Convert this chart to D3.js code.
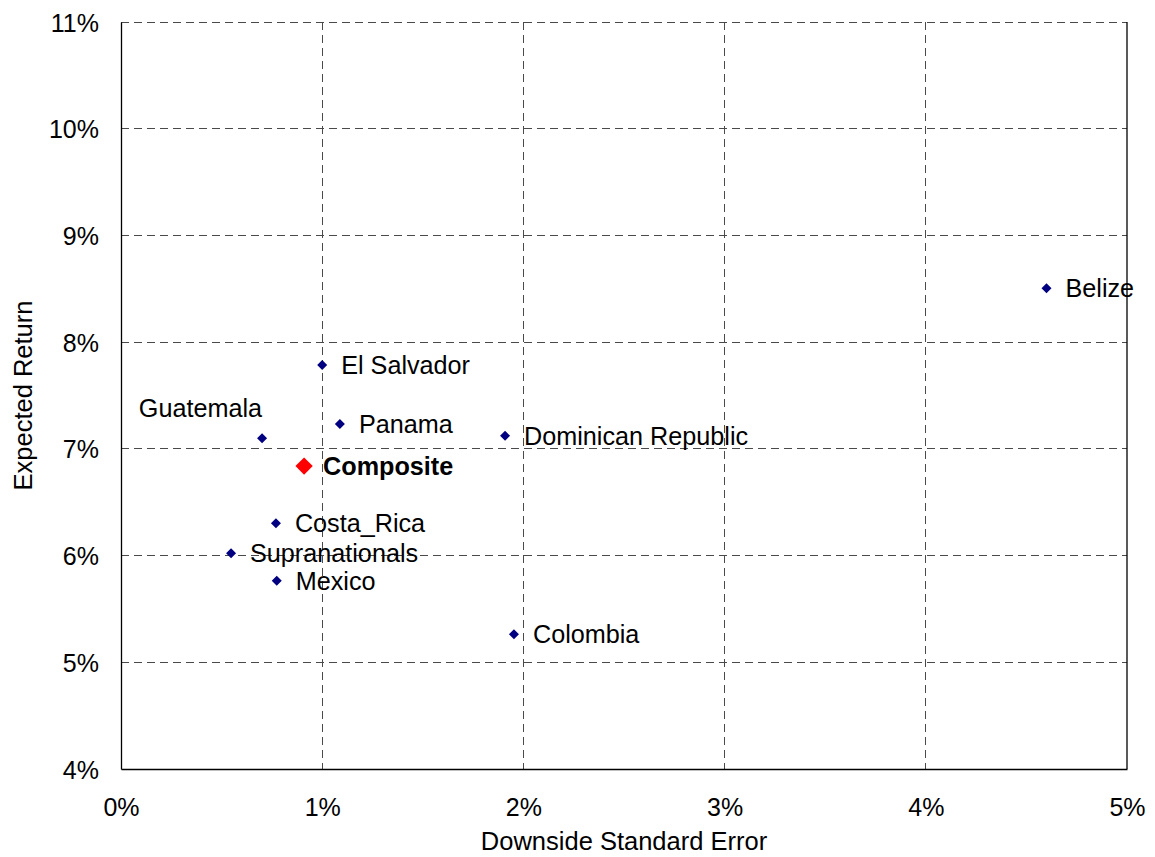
<!DOCTYPE html>
<html>
<head>
<meta charset="utf-8">
<script src="https://cdn.jsdelivr.net/npm/d3@7/dist/d3.min.js"></script>
<style>
  html, body { margin: 0; padding: 0; background: #fff; }
  svg { display: block; font-family: "Liberation Sans", Arial, sans-serif; }
</style>
</head>
<body>
<svg id="chart" width="1155" height="857"></svg>
<script>
// Country scores: downside standard error (%) vs expected return (%)
const countries = ["Belize", "El Salvador", "Panama", "Dominican Republic", "Guatemala",
                   "Composite", "Costa_Rica", "Supranationals", "Mexico", "Colombia"];
const downsideError = [4.60, 1.00, 1.088, 1.909, 0.701, 0.910, 0.770, 0.547, 0.774, 1.953];
const expectedReturn = [8.504, 7.786, 7.233, 7.123, 7.099, 6.839, 6.302, 6.021, 5.764, 5.262];
const labelSide = ["right", "right", "right", "right", "above-left",
                   "right", "right", "right", "right", "right"];

const xTicks = [0, 1, 2, 3, 4, 5];
const yTicks = [4, 5, 6, 7, 8, 9, 10, 11];

const margin = { left: 121, top: 22, right: 28, bottom: 88 };
const W = 1155, H = 857;
const svg = d3.select("#chart");

const x = d3.scaleLinear().domain([0, 5]).range([margin.left, W - margin.right]);
const y = d3.scaleLinear().domain([4, 11]).range([H - margin.bottom, margin.top]);

const x0 = x.range()[0], x1 = x.range()[1];
const yTop = y.range()[1], yBot = y.range()[0];

// Dashed gridlines
const grid = svg.append("g").attr("stroke", "#4a4a4a").attr("stroke-width", 1)
  .attr("stroke-dasharray", "8,5").attr("shape-rendering", "crispEdges");
grid.selectAll("line.h").data(yTicks.filter(v => v > 4)).join("line")
  .attr("class", "h")
  .attr("x1", x0).attr("x2", x1)
  .attr("y1", d => y(d)).attr("y2", d => y(d));
grid.selectAll("line.v").data(xTicks.filter(v => v > 0 && v < 5)).join("line")
  .attr("class", "v")
  .attr("y1", yTop).attr("y2", yBot)
  .attr("x1", d => x(d)).attr("x2", d => x(d));

// Axes drawn with D3 axis generators; tick marks hidden, domain lines kept
const fmt = d => d + "%";
const xAxis = svg.append("g").attr("transform", `translate(0,${yBot})`)
  .call(d3.axisBottom(x).tickValues(xTicks).tickFormat(fmt).tickSize(0).tickPadding(29));
const yAxis = svg.append("g").attr("transform", `translate(${x0},0)`)
  .call(d3.axisLeft(y).tickValues(yTicks).tickFormat(fmt).tickSize(0).tickPadding(22));
[xAxis, yAxis].forEach(a => {
  a.select(".domain").attr("stroke", "#000").attr("stroke-width", 1.3);
  a.selectAll("text").attr("font-size", 25).attr("fill", "#000")
    .attr("font-family", "'Liberation Sans', Arial, sans-serif");
});
yAxis.selectAll("text").attr("dy", "0.36em");
xAxis.selectAll("text").attr("dy", "0.71em");

// Right border of plot area
svg.append("line").attr("x1", x1).attr("x2", x1).attr("y1", yTop).attr("y2", yBot)
  .attr("stroke", "#000").attr("stroke-width", 1.3);

// Axis titles
svg.append("text").attr("x", 624).attr("y", 850)
  .attr("text-anchor", "middle").attr("font-size", 25.5).attr("fill", "#000")
  .text("Downside Standard Error");
svg.append("text")
  .attr("transform", `translate(32,${(yTop + yBot) / 2}) rotate(-90)`)
  .attr("text-anchor", "middle").attr("font-size", 25.5).attr("fill", "#000")
  .text("Expected Return");

// Points and labels
const pts = countries.map((name, i) => ({
  name, dx: downsideError[i], ret: expectedReturn[i], side: labelSide[i],
  composite: name === "Composite"
}));

const g = svg.append("g");
g.selectAll("path").data(pts).join("path")
  .attr("transform", d => `translate(${x(d.dx)},${y(d.ret)}) rotate(45)`)
  .attr("d", d => d3.symbol(d3.symbolSquare, d.composite ? 150 : 50)())
  .attr("fill", d => d.composite ? "#ff0000" : "#000080");

g.selectAll("text").data(pts).join("text")
  .attr("x", d => d.side === "right" ? x(d.dx) + 19 : x(d.dx))
  .attr("y", d => d.side === "right" ? y(d.ret) : y(d.ret) - 21)
  .attr("dy", d => d.side === "right" ? "0.35em" : 0)
  .attr("text-anchor", d => d.side === "right" ? "start" : "end")
  .attr("font-size", 25.2)
  .attr("font-weight", d => d.composite ? "bold" : "normal")
  .attr("fill", "#000")
  .text(d => d.name);
</script>
</body>
</html>
